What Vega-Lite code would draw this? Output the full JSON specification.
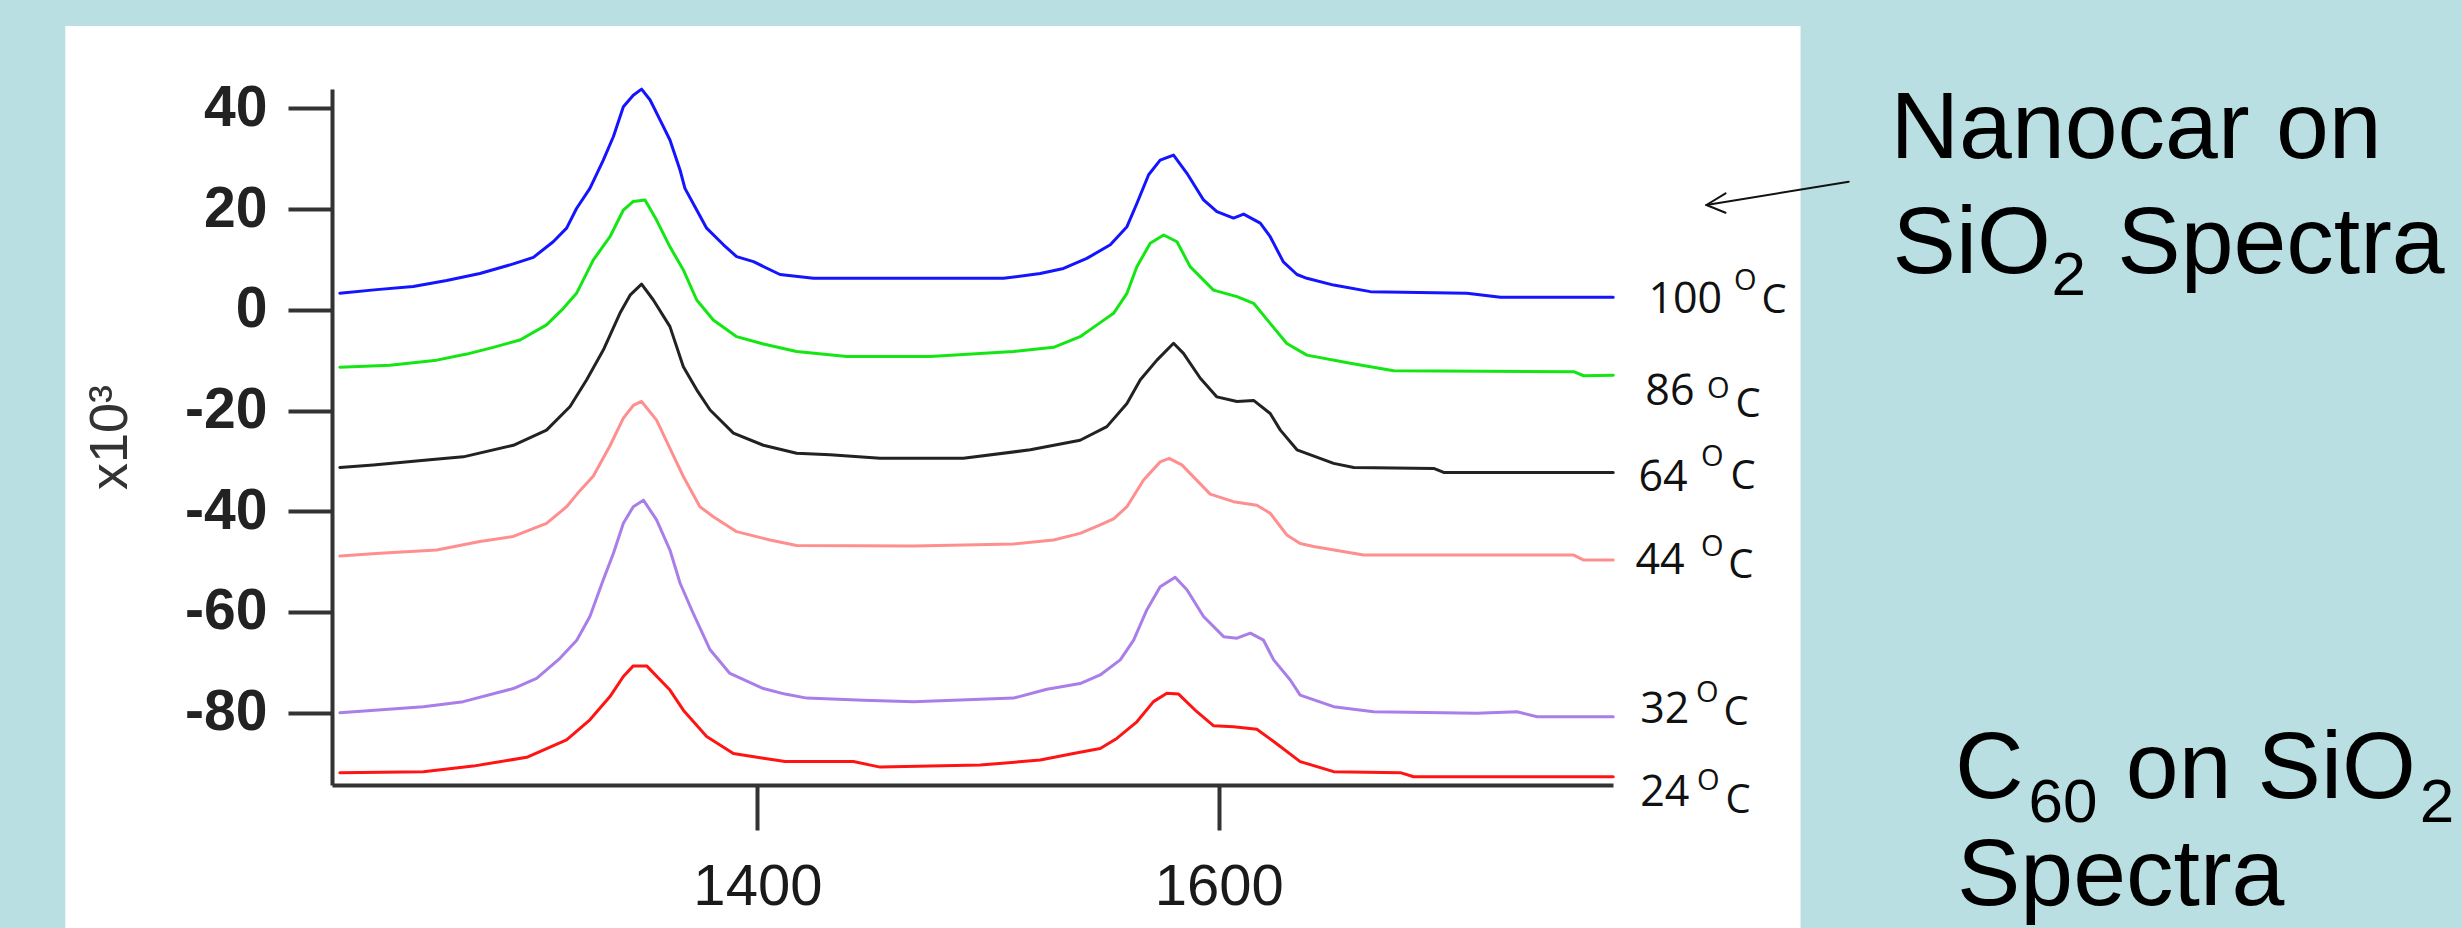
{
  "$schema": "https://vega.github.io/schema/vega-lite/v6.json",
  "autosize": {"type": "none"},
  "width": 1281,
  "height": 696,
  "padding": {"left": 332, "top": 89, "right": 849, "bottom": 143},
  "background": "#BADFE2",
  "config": {"view": {"stroke": null, "fill": null}},
  "datasets": {
    "panel": [{"wn": 1100, "wn2": 1852.2, "v": 56.34, "v2": -122.74}],
    "lines": [
      {"T":"100","wn":1219,"v":3.3},{"T":"100","wn":1235,"v":4.0},{"T":"100","wn":1250.8,"v":4.6},{"T":"100","wn":1265.3,"v":5.8},{"T":"100","wn":1279.7,"v":7.2},{"T":"100","wn":1294.2,"v":9.1},{"T":"100","wn":1302.9,"v":10.4},{"T":"100","wn":1311.5,"v":13.5},{"T":"100","wn":1317.3,"v":16.2},{"T":"100","wn":1321.6,"v":20.1},{"T":"100","wn":1327.4,"v":24.1},{"T":"100","wn":1333.2,"v":29.7},{"T":"100","wn":1337.6,"v":34.4},{"T":"100","wn":1341.9,"v":40.3},{"T":"100","wn":1346.2,"v":42.6},{"T":"100","wn":1349.8,"v":43.8},{"T":"100","wn":1353.5,"v":41.65},{"T":"100","wn":1357.8,"v":37.7},{"T":"100","wn":1362.1,"v":33.7},{"T":"100","wn":1366.5,"v":27.7},{"T":"100","wn":1368.6,"v":24.1},{"T":"100","wn":1373.7,"v":19.8},{"T":"100","wn":1378,"v":16.2},{"T":"100","wn":1385.3,"v":12.9},{"T":"100","wn":1391,"v":10.55},{"T":"100","wn":1398.3,"v":9.55},{"T":"100","wn":1409.8,"v":7.0},{"T":"100","wn":1424.3,"v":6.25},{"T":"100","wn":1467.7,"v":6.25},{"T":"100","wn":1506.7,"v":6.25},{"T":"100","wn":1522.6,"v":7.2},{"T":"100","wn":1532.7,"v":8.2},{"T":"100","wn":1542.8,"v":10.2},{"T":"100","wn":1553,"v":12.9},{"T":"100","wn":1560.2,"v":16.5},{"T":"100","wn":1564.5,"v":21.1},{"T":"100","wn":1569.6,"v":26.8},{"T":"100","wn":1574.6,"v":29.7},{"T":"100","wn":1580.4,"v":30.7},{"T":"100","wn":1586.2,"v":27.1},{"T":"100","wn":1593.4,"v":21.8},{"T":"100","wn":1599.2,"v":19.5},{"T":"100","wn":1606.4,"v":18.2},{"T":"100","wn":1610.8,"v":19.0},{"T":"100","wn":1618,"v":17.2},{"T":"100","wn":1622.3,"v":14.5},{"T":"100","wn":1628,"v":9.5},{"T":"100","wn":1633.9,"v":7.0},{"T":"100","wn":1638.2,"v":6.25},{"T":"100","wn":1649.8,"v":4.9},{"T":"100","wn":1665.7,"v":3.6},{"T":"100","wn":1707.6,"v":3.26},{"T":"100","wn":1722.1,"v":2.47},{"T":"100","wn":1771,"v":2.47},
      {"T":"86","wn":1219,"v":-11.4},{"T":"86","wn":1240.7,"v":-11.0},{"T":"86","wn":1261,"v":-10.0},{"T":"86","wn":1274,"v":-8.8},{"T":"86","wn":1285.5,"v":-7.46},{"T":"86","wn":1297.1,"v":-6.0},{"T":"86","wn":1308.6,"v":-3.0},{"T":"86","wn":1315.9,"v":0.29},{"T":"86","wn":1321.6,"v":3.26},{"T":"86","wn":1328.9,"v":9.9},{"T":"86","wn":1336.1,"v":14.5},{"T":"86","wn":1341.9,"v":19.8},{"T":"86","wn":1346.2,"v":21.5},{"T":"86","wn":1351.3,"v":21.8},{"T":"86","wn":1356.3,"v":17.8},{"T":"86","wn":1362.1,"v":12.5},{"T":"86","wn":1367.9,"v":7.9},{"T":"86","wn":1373.7,"v":1.94},{"T":"86","wn":1380.9,"v":-2.03},{"T":"86","wn":1391,"v":-5.34},{"T":"86","wn":1402.6,"v":-6.8},{"T":"86","wn":1417,"v":-8.3},{"T":"86","wn":1438.8,"v":-9.3},{"T":"86","wn":1474.9,"v":-9.3},{"T":"86","wn":1511,"v":-8.3},{"T":"86","wn":1528.4,"v":-7.46},{"T":"86","wn":1539.9,"v":-5.34},{"T":"86","wn":1547.2,"v":-3.0},{"T":"86","wn":1554.4,"v":-0.7},{"T":"86","wn":1560.2,"v":3.26},{"T":"86","wn":1564.5,"v":8.56},{"T":"86","wn":1570.3,"v":13.2},{"T":"86","wn":1576.1,"v":14.84},{"T":"86","wn":1581.9,"v":13.5},{"T":"86","wn":1587.6,"v":8.56},{"T":"86","wn":1597.7,"v":3.9},{"T":"86","wn":1607.9,"v":2.6},{"T":"86","wn":1615.1,"v":1.28},{"T":"86","wn":1622.3,"v":-2.7},{"T":"86","wn":1629.5,"v":-6.7},{"T":"86","wn":1638.2,"v":-9.0},{"T":"86","wn":1657,"v":-10.6},{"T":"86","wn":1675.8,"v":-12.1},{"T":"86","wn":1753.9,"v":-12.3},{"T":"86","wn":1758.2,"v":-13.1},{"T":"86","wn":1771,"v":-13.0},
      {"T":"64","wn":1219,"v":-31.3},{"T":"64","wn":1233.5,"v":-30.8},{"T":"64","wn":1258,"v":-29.8},{"T":"64","wn":1272.5,"v":-29.2},{"T":"64","wn":1294.2,"v":-26.9},{"T":"64","wn":1308.6,"v":-23.9},{"T":"64","wn":1318.8,"v":-19.2},{"T":"64","wn":1326,"v":-13.9},{"T":"64","wn":1333.2,"v":-8.0},{"T":"64","wn":1340.4,"v":-0.71},{"T":"64","wn":1344.8,"v":2.9},{"T":"64","wn":1349.8,"v":5.1},{"T":"64","wn":1354.9,"v":1.94},{"T":"64","wn":1362.1,"v":-3.35},{"T":"64","wn":1367.9,"v":-11.3},{"T":"64","wn":1373.7,"v":-15.9},{"T":"64","wn":1379.5,"v":-19.9},{"T":"64","wn":1389.6,"v":-24.5},{"T":"64","wn":1402.6,"v":-26.9},{"T":"64","wn":1417,"v":-28.5},{"T":"64","wn":1431.5,"v":-28.8},{"T":"64","wn":1453.2,"v":-29.5},{"T":"64","wn":1489.3,"v":-29.5},{"T":"64","wn":1518.3,"v":-27.8},{"T":"64","wn":1539.9,"v":-25.9},{"T":"64","wn":1551.5,"v":-23.2},{"T":"64","wn":1560.2,"v":-18.6},{"T":"64","wn":1566,"v":-13.9},{"T":"64","wn":1573.2,"v":-10.0},{"T":"64","wn":1580.4,"v":-6.66},{"T":"64","wn":1584.7,"v":-8.65},{"T":"64","wn":1592,"v":-13.6},{"T":"64","wn":1599.2,"v":-17.3},{"T":"64","wn":1607.9,"v":-18.2},{"T":"64","wn":1615.1,"v":-18.0},{"T":"64","wn":1622.3,"v":-20.6},{"T":"64","wn":1626.7,"v":-23.9},{"T":"64","wn":1633.9,"v":-27.8},{"T":"64","wn":1649.8,"v":-30.5},{"T":"64","wn":1658.5,"v":-31.3},{"T":"64","wn":1693.2,"v":-31.5},{"T":"64","wn":1697.5,"v":-32.3},{"T":"64","wn":1771,"v":-32.3},
      {"T":"44","wn":1219,"v":-48.9},{"T":"44","wn":1236.4,"v":-48.35},{"T":"44","wn":1261,"v":-47.7},{"T":"44","wn":1279.7,"v":-46.0},{"T":"44","wn":1294.2,"v":-45.0},{"T":"44","wn":1308.6,"v":-42.4},{"T":"44","wn":1317.3,"v":-39.1},{"T":"44","wn":1322,"v":-36.5},{"T":"44","wn":1328.9,"v":-33.0},{"T":"44","wn":1336.1,"v":-27.0},{"T":"44","wn":1341.9,"v":-21.5},{"T":"44","wn":1346.2,"v":-19.0},{"T":"44","wn":1349.8,"v":-18.2},{"T":"44","wn":1356.3,"v":-21.9},{"T":"44","wn":1362.1,"v":-27.5},{"T":"44","wn":1367.9,"v":-33.1},{"T":"44","wn":1375.1,"v":-39.1},{"T":"44","wn":1380.9,"v":-41.1},{"T":"44","wn":1391,"v":-44.05},{"T":"44","wn":1405.5,"v":-45.7},{"T":"44","wn":1417,"v":-46.8},{"T":"44","wn":1467.7,"v":-46.9},{"T":"44","wn":1511,"v":-46.5},{"T":"44","wn":1528.4,"v":-45.7},{"T":"44","wn":1539.9,"v":-44.4},{"T":"44","wn":1548.6,"v":-42.7},{"T":"44","wn":1554.4,"v":-41.5},{"T":"44","wn":1560.2,"v":-39.1},{"T":"44","wn":1567.4,"v":-33.8},{"T":"44","wn":1574.6,"v":-30.2},{"T":"44","wn":1578.5,"v":-29.5},{"T":"44","wn":1584,"v":-30.8},{"T":"44","wn":1596.3,"v":-36.6},{"T":"44","wn":1606.4,"v":-38.1},{"T":"44","wn":1616.5,"v":-38.8},{"T":"44","wn":1622.3,"v":-40.4},{"T":"44","wn":1629.5,"v":-44.7},{"T":"44","wn":1635.3,"v":-46.4},{"T":"44","wn":1641.1,"v":-47.0},{"T":"44","wn":1662.8,"v":-48.7},{"T":"44","wn":1753.9,"v":-48.7},{"T":"44","wn":1758.2,"v":-49.7},{"T":"44","wn":1771,"v":-49.7},
      {"T":"32","wn":1219,"v":-80.0},{"T":"32","wn":1255.2,"v":-78.8},{"T":"32","wn":1272.5,"v":-77.8},{"T":"32","wn":1294.2,"v":-75.2},{"T":"32","wn":1304.3,"v":-73.2},{"T":"32","wn":1314.4,"v":-69.2},{"T":"32","wn":1321.7,"v":-65.6},{"T":"32","wn":1327.4,"v":-60.9},{"T":"32","wn":1333.2,"v":-53.6},{"T":"32","wn":1337.6,"v":-48.35},{"T":"32","wn":1341.9,"v":-42.4},{"T":"32","wn":1346.2,"v":-39.1},{"T":"32","wn":1350.6,"v":-37.8},{"T":"32","wn":1356.3,"v":-41.7},{"T":"32","wn":1362.1,"v":-47.7},{"T":"32","wn":1366.5,"v":-54.3},{"T":"32","wn":1372.2,"v":-60.3},{"T":"32","wn":1379.5,"v":-67.5},{"T":"32","wn":1388.1,"v":-72.2},{"T":"32","wn":1402.6,"v":-75.2},{"T":"32","wn":1412,"v":-76.3},{"T":"32","wn":1421.4,"v":-77.1},{"T":"32","wn":1446,"v":-77.5},{"T":"32","wn":1467.7,"v":-77.8},{"T":"32","wn":1511,"v":-77.1},{"T":"32","wn":1525.5,"v":-75.35},{"T":"32","wn":1539.9,"v":-74.2},{"T":"32","wn":1548.6,"v":-72.5},{"T":"32","wn":1557.3,"v":-69.5},{"T":"32","wn":1563.1,"v":-65.6},{"T":"32","wn":1568.8,"v":-59.6},{"T":"32","wn":1574.6,"v":-55.0},{"T":"32","wn":1581.1,"v":-53.1},{"T":"32","wn":1586.2,"v":-55.6},{"T":"32","wn":1593.4,"v":-60.9},{"T":"32","wn":1602.1,"v":-64.9},{"T":"32","wn":1607.9,"v":-65.2},{"T":"32","wn":1613.7,"v":-64.2},{"T":"32","wn":1619.4,"v":-65.6},{"T":"32","wn":1623.8,"v":-69.5},{"T":"32","wn":1631,"v":-73.5},{"T":"32","wn":1635.3,"v":-76.5},{"T":"32","wn":1649.8,"v":-78.8},{"T":"32","wn":1667.1,"v":-79.8},{"T":"32","wn":1711.9,"v":-80.1},{"T":"32","wn":1729.3,"v":-79.8},{"T":"32","wn":1738,"v":-80.8},{"T":"32","wn":1771,"v":-80.8},
      {"T":"24","wn":1219,"v":-91.9},{"T":"24","wn":1255.2,"v":-91.7},{"T":"24","wn":1276.8,"v":-90.6},{"T":"24","wn":1300,"v":-88.85},{"T":"24","wn":1317.3,"v":-85.4},{"T":"24","wn":1327.4,"v":-81.4},{"T":"24","wn":1336.1,"v":-76.8},{"T":"24","wn":1341.9,"v":-72.8},{"T":"24","wn":1346.2,"v":-70.7},{"T":"24","wn":1352,"v":-70.7},{"T":"24","wn":1362.1,"v":-75.5},{"T":"24","wn":1367.9,"v":-79.5},{"T":"24","wn":1378,"v":-84.7},{"T":"24","wn":1389.6,"v":-88.1},{"T":"24","wn":1402.6,"v":-89.05},{"T":"24","wn":1412,"v":-89.7},{"T":"24","wn":1441.6,"v":-89.7},{"T":"24","wn":1453.2,"v":-90.8},{"T":"24","wn":1496.6,"v":-90.4},{"T":"24","wn":1522.6,"v":-89.4},{"T":"24","wn":1537,"v":-88.1},{"T":"24","wn":1548.6,"v":-87.1},{"T":"24","wn":1555.8,"v":-85.1},{"T":"24","wn":1564.5,"v":-81.8},{"T":"24","wn":1571.7,"v":-77.8},{"T":"24","wn":1577.5,"v":-76.15},{"T":"24","wn":1582.6,"v":-76.3},{"T":"24","wn":1590.5,"v":-79.8},{"T":"24","wn":1597.8,"v":-82.6},{"T":"24","wn":1606.4,"v":-82.8},{"T":"24","wn":1616.5,"v":-83.3},{"T":"24","wn":1623.8,"v":-85.7},{"T":"24","wn":1635.3,"v":-89.7},{"T":"24","wn":1649.8,"v":-91.7},{"T":"24","wn":1678.7,"v":-91.9},{"T":"24","wn":1684.5,"v":-92.7},{"T":"24","wn":1771,"v":-92.7}
    ],
    "labels": [
      {"role":"num","txt":"100","wn":1786.25,"v":-0.64},
      {"role":"num","txt":"86","wn":1784.9,"v":-18.9},
      {"role":"num","txt":"64","wn":1781.9,"v":-35.98},
      {"role":"num","txt":"44","wn":1780.6,"v":-52.46},
      {"role":"num","txt":"32","wn":1782.7,"v":-82.04},
      {"role":"num","txt":"24","wn":1782.7,"v":-98.42},
      {"role":"deg","txt":"O","wn":1823.3,"v":3.93},
      {"role":"deg","txt":"O","wn":1811.6,"v":-17.42},
      {"role":"deg","txt":"O","wn":1809.0,"v":-31.11},
      {"role":"deg","txt":"O","wn":1809.0,"v":-48.98},
      {"role":"deg","txt":"O","wn":1806.9,"v":-77.87},
      {"role":"deg","txt":"O","wn":1807.3,"v":-95.34},
      {"role":"c","txt":"C","wn":1835.3,"v":-0.64},
      {"role":"c","txt":"C","wn":1824.0,"v":-21.29},
      {"role":"c","txt":"C","wn":1821.8,"v":-35.68},
      {"role":"c","txt":"C","wn":1820.9,"v":-53.17},
      {"role":"c","txt":"C","wn":1818.8,"v":-82.43},
      {"role":"c","txt":"C","wn":1819.7,"v":-99.9},
      {"role":"big","txt":"Nanocar on","wn":1891.2,"v":30.13},
      {"role":"big","txt":"SiO","wn":1892.1,"v":7.30},
      {"role":"sub","txt":"2","wn":1961.0,"v":2.93},
      {"role":"big","txt":"Spectra","wn":1989.5,"v":7.30},
      {"role":"big","txt":"C","wn":1919.2,"v":-96.93},
      {"role":"sub","txt":"60","wn":1951.0,"v":-101.63},
      {"role":"big","txt":"on","wn":1993.2,"v":-96.93},
      {"role":"big","txt":"SiO","wn":2050.3,"v":-96.93},
      {"role":"sub","txt":"2","wn":2120.6,"v":-101.63},
      {"role":"big","txt":"Spectra","wn":1920.0,"v":-118.17}
    ],
    "arrow": [
      {"wn":1873.1,"v":25.43,"wn2":1811.4,"v2":20.80},
      {"wn":1811.4,"v":20.80,"wn2":1819.7,"v2":23.12},
      {"wn":1811.4,"v":20.80,"wn2":1819.7,"v2":19.27}
    ]
  },
  "encoding": {
    "x": {
      "field": "wn", "type": "quantitative",
      "scale": {"domain": [1215.6, 1770.9], "nice": false, "zero": false},
      "axis": {
        "values": [1400, 1600], "format": "d", "title": null, "grid": false, "zindex": 1,
        "domainColor": "#333333", "domainWidth": 4, "tickColor": "#333333", "tickWidth": 4, "tickSize": 45,
        "labelFont": "Liberation Sans", "labelFontSize": 58, "labelColor": "#1a1a1a",
        "labelPadding": 28, "labelFlush": false
      }
    },
    "y": {
      "field": "v", "type": "quantitative",
      "scale": {"domain": [-94.35, 43.83], "nice": false, "zero": false},
      "axis": {
        "values": [-80, -60, -40, -20, 0, 20, 40], "labelExpr": "toString(datum.value)", "grid": false, "zindex": 1,
        "domainColor": "#333333", "domainWidth": 4, "tickColor": "#333333", "tickWidth": 4, "tickSize": 44,
        "labelFont": "Liberation Sans", "labelFontSize": 57, "labelFontWeight": "bold", "labelColor": "#222222", "labelPadding": 21,
        "title": "x10³", "titleFont": "Liberation Sans", "titleFontSize": 54, "titleFontWeight": "normal",
        "titleColor": "#333333", "titlePadding": 47
      }
    }
  },
  "layer": [
    {
      "data": {"name": "panel"},
      "mark": {"type": "rect", "color": "#ffffff"},
      "encoding": {"x2": {"field": "wn2"}, "y2": {"field": "v2"}}
    },
    {
      "data": {"name": "lines"},
      "mark": {"type": "line", "strokeWidth": 3, "strokeCap": "round", "strokeJoin": "round"},
      "encoding": {
        "color": {
          "field": "T", "type": "nominal", "legend": null,
          "scale": {"domain": ["100", "86", "64", "44", "32", "24"],
                    "range": ["#1414ff", "#14e614", "#222222", "#ff8f8f", "#a97ee8", "#ff1414"]}
        }
      }
    },
    {
      "data": {"name": "labels"},
      "transform": [{"filter": "datum.role === 'num'"}],
      "mark": {"type": "text", "align": "left", "baseline": "alphabetic", "font": "Open Sans", "fontSize": 43, "color": "#111111"},
      "encoding": {"text": {"field": "txt"}}
    },
    {
      "data": {"name": "labels"},
      "transform": [{"filter": "datum.role === 'deg'"}],
      "mark": {"type": "text", "align": "left", "baseline": "alphabetic", "font": "Open Sans", "fontSize": 29, "color": "#111111"},
      "encoding": {"text": {"field": "txt"}}
    },
    {
      "data": {"name": "labels"},
      "transform": [{"filter": "datum.role === 'c'"}],
      "mark": {"type": "text", "align": "left", "baseline": "alphabetic", "font": "Open Sans", "fontSize": 40, "color": "#111111"},
      "encoding": {"text": {"field": "txt"}}
    },
    {
      "data": {"name": "labels"},
      "transform": [{"filter": "datum.role === 'big'"}],
      "mark": {"type": "text", "align": "left", "baseline": "alphabetic", "font": "Liberation Sans", "fontSize": 95, "color": "#000000"},
      "encoding": {"text": {"field": "txt"}}
    },
    {
      "data": {"name": "labels"},
      "transform": [{"filter": "datum.role === 'sub'"}],
      "mark": {"type": "text", "align": "left", "baseline": "alphabetic", "font": "Liberation Sans", "fontSize": 62, "color": "#000000"},
      "encoding": {"text": {"field": "txt"}}
    },
    {
      "data": {"name": "arrow"},
      "mark": {"type": "rule", "color": "#111111", "strokeWidth": 2, "strokeCap": "round"},
      "encoding": {"x2": {"field": "wn2"}, "y2": {"field": "v2"}}
    }
  ]
}
